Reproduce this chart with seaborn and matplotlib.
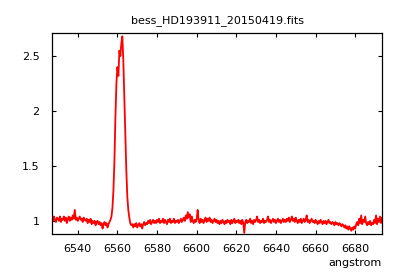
import numpy as np
import pandas as pd
import matplotlib
matplotlib.use("Agg")
import matplotlib.pyplot as plt
import seaborn as sns

TITLE = "bess_HD193911_20150419.fits"
X_LABEL = "angstrom"

# spectrum sampling (linear wavelength grid, like CRVAL1/CDELT1 in the fits header)
WAVE_START = 6527.0
WAVE_STEP = 0.5

# normalised flux, one value every 0.5 angstrom
FLUX = [
    1.03, 1.00, 1.04, 1.01, 0.99, 1.03, 1.02, 1.00, 1.04, 0.99,
    1.02, 1.01, 1.04, 1.00, 1.03, 0.98, 1.02, 1.04, 1.00, 1.03,
    1.01, 1.05, 1.02, 1.10, 1.01, 1.03, 1.00, 1.02, 1.04, 1.01,
    1.02, 0.99, 1.03, 1.01, 1.00, 1.02, 0.98, 1.01, 0.99, 1.02,
    0.97, 1.00, 0.98, 1.00, 0.96, 0.99, 1.00, 0.97, 0.99, 0.96,
    0.98, 0.93, 0.97, 0.99, 0.96, 0.98, 0.94, 0.97, 0.99, 1.01,
    1.04, 1.12, 1.28, 1.55, 1.95, 2.25, 2.40, 2.32, 2.55, 2.50,
    2.62, 2.68, 2.45, 2.12, 1.78, 1.46, 1.22, 1.10, 1.03, 0.98,
    0.96, 0.97, 0.94, 0.97, 0.95, 0.98, 0.94, 0.96, 0.98, 0.95,
    0.97, 0.93, 0.97, 0.99, 0.96, 0.98, 0.97, 1.00, 0.98, 1.01,
    0.97, 0.99, 1.01, 0.98, 1.00, 0.98, 1.01, 0.99, 1.02, 0.98,
    1.00, 0.99, 1.02, 0.98, 1.01, 0.99, 0.97, 1.01, 0.99, 1.02,
    0.98, 1.00, 0.99, 1.02, 0.98, 1.00, 0.99, 1.01, 0.98, 1.00,
    1.02, 0.99, 1.01, 1.03, 1.00, 1.05, 1.02, 1.08, 1.03, 1.06,
    0.99, 1.04, 1.00, 0.98, 1.01, 0.99, 1.02, 1.10, 1.00, 0.98,
    1.02, 0.99, 1.01, 0.98, 1.01, 1.03, 0.99, 1.02, 1.00, 1.03,
    0.99, 1.01, 0.98, 1.00, 1.02, 0.99, 1.01, 0.98, 1.00, 0.97,
    1.00, 0.98, 1.01, 0.99, 0.97, 1.00, 0.98, 1.01, 0.99, 1.00,
    0.97, 1.01, 0.98, 1.00, 1.02, 0.98, 1.00, 0.99, 1.01, 0.98,
    1.00, 0.97, 1.01, 0.98, 0.89, 0.99, 1.01, 0.98, 1.00, 0.99,
    1.02, 0.98, 1.00, 0.97, 1.01, 0.99, 1.01, 1.04, 0.99, 1.01,
    0.98, 1.00, 0.99, 1.02, 0.98, 1.00, 0.99, 1.01, 1.04, 0.99,
    1.01, 0.98, 1.00, 1.02, 0.99, 1.01, 0.98, 1.00, 1.02, 0.99,
    1.01, 0.98, 1.00, 1.02, 0.99, 1.01, 0.99, 1.02, 1.00, 1.03,
    0.99, 1.01, 1.04, 1.00, 1.02, 0.99, 1.03, 1.00, 0.98, 1.01,
    0.99, 1.02, 0.98, 1.00, 1.02, 0.99, 1.01, 1.05, 0.99, 1.01,
    0.98, 1.00, 1.02, 0.99, 1.00, 0.98, 1.01, 0.99, 0.97, 1.00,
    0.98, 1.01, 0.99, 0.97, 1.00, 0.98, 1.00, 0.97, 0.99, 1.01,
    0.98, 0.99, 0.97, 0.99, 0.98, 0.96, 0.99, 0.97, 0.98, 0.96,
    0.98, 0.97, 0.95, 0.97, 0.96, 0.94, 0.96, 0.93, 0.95, 0.92,
    0.95, 0.93, 0.91, 0.94, 0.92, 0.95, 0.93, 0.97, 0.99, 0.96,
    1.02, 0.98, 1.05, 0.97, 1.01, 0.99, 1.04, 0.98, 0.96, 0.99,
    0.97, 1.00, 0.96, 0.98, 0.97, 1.01, 0.98, 1.05, 0.97, 1.02,
    0.99, 1.04, 0.98, 1.03,
]

X_TICKS = [6540, 6560, 6580, 6600, 6620, 6640, 6660, 6680]
Y_TICKS = [1, 1.5, 2, 2.5]
Y_LIMITS = (0.88, 2.71)

spec = pd.DataFrame({"flux": FLUX})
spec["wavelength"] = WAVE_START + WAVE_STEP * np.arange(len(spec))

sns.set_style("ticks")
plt.rcParams["font.family"] = ["DejaVu Sans"]
plt.rcParams["text.color"] = "black"
plt.rcParams["axes.labelcolor"] = "black"
plt.rcParams["xtick.color"] = "black"
plt.rcParams["ytick.color"] = "black"

fig = plt.figure(figsize=(4.0, 2.8), dpi=100)
ax = fig.add_axes([0.13, 0.164, 0.825, 0.718])

sns.lineplot(data=spec, x="wavelength", y="flux", color="#ff0000",
             linewidth=1.3, estimator=None, ax=ax)

ax.set_xlim(spec["wavelength"].min(), spec["wavelength"].max())
ax.set_ylim(*Y_LIMITS)
ax.set_xticks(X_TICKS)
ax.set_yticks(Y_TICKS)
ax.set_yticklabels([f"{t:g}" for t in Y_TICKS])

ax.tick_params(direction="in", length=3, width=0.8, labelsize=8,
               top=True, right=True, colors="black")
ax.tick_params(axis="x", pad=7)
ax.tick_params(axis="y", pad=9)
for side in ax.spines.values():
    side.set_visible(True)
    side.set_color("black")
    side.set_linewidth(0.9)

ax.set_title(TITLE, fontsize=8, pad=7, color="black")
ax.set_xlabel(X_LABEL, fontsize=8, loc="right", labelpad=3, color="black")
ax.set_ylabel("")

fig.savefig("out.png", dpi=100)
